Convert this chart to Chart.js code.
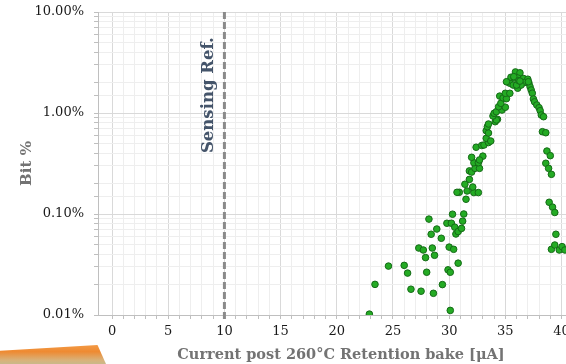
<!DOCTYPE html>
<html lang="en">
<head>
    <meta charset="UTF-8">
    <script src="https://cdn.jsdelivr.net/npm/chart.js@4.4.1/dist/chart.umd.min.js"></script>
    <title>Bit % vs current</title>
    <style>
        html, body { margin: 0; padding: 0; background: #fff; overflow: hidden; width: 566px; height: 364px; }
        #chart { position: absolute; left: 0; top: 0; }
        .corner {
            position: absolute; left: 0; top: 345px; width: 106px; height: 19px;
            background: linear-gradient(180deg, #f39a45 0%, #ee8a32 35%, #d9b27a 80%, #c9b98a 100%);
            clip-path: polygon(0 30%, 92% 0, 100% 100%, 0 100%);
        }
    </style>
</head>
<body>
    <canvas id="chart" width="600" height="364"></canvas>
    <div class="corner"></div>

    <script>
        // x: current post bake [uA], y: bit % (percent units)
        const current = [
            22.9, 23.4, 24.6, 26.0, 26.3, 26.6, 27.5, 28.6, 28.2, 28.4,
            28.9, 29.3, 27.3, 27.7, 28.5, 27.9, 28.7, 28.0, 29.4, 30.1,
            29.9, 30.1, 30.8, 30.0, 30.4, 30.3, 29.8, 30.2, 30.5, 30.6,
            30.8, 31.1, 31.3, 31.2, 31.5, 30.9, 30.7, 31.6, 32.2, 32.6,
            32.1, 31.4, 31.8, 31.8, 32.0, 32.3, 32.7, 32.2, 32.6, 32.0,
            33.0, 32.7, 32.4, 32.9, 33.1, 33.5, 33.3, 33.7, 33.3, 33.5,
            33.4, 33.5, 34.1, 34.3, 34.2, 33.9, 34.0, 34.2, 34.7, 35.0,
            34.4, 34.6, 34.5, 34.8, 35.1, 35.0, 35.4, 35.2, 35.4, 35.7,
            35.5, 35.8, 35.9, 36.3, 36.1, 36.6, 37.0, 36.7, 37.1, 37.2,
            37.3, 36.1, 36.4, 36.0, 35.75, 35.1, 36.2, 37.05, 36.3, 37.4,
            37.5, 37.6, 37.8, 38.0, 38.1, 38.2, 38.4, 38.3, 38.6, 38.7,
            39.0, 38.6, 38.85, 39.1, 38.9, 39.2, 39.4, 39.5, 39.1, 39.4,
            39.8, 40.05, 40.3
        ];
        const bitPct = [
            0.0102, 0.0201, 0.0305, 0.031, 0.026, 0.018, 0.0172, 0.0164, 0.089, 0.063,
            0.071, 0.0575, 0.046, 0.044, 0.046, 0.037, 0.039, 0.0265, 0.020, 0.0111,
            0.028, 0.0265, 0.0326, 0.047, 0.0447, 0.0995, 0.081, 0.081, 0.074, 0.0634,
            0.067, 0.072, 0.1, 0.085, 0.14, 0.164, 0.164, 0.169, 0.163, 0.163,
            0.185, 0.197, 0.22, 0.267, 0.26, 0.283, 0.283, 0.322, 0.322, 0.364,
            0.374, 0.343, 0.458, 0.477, 0.482, 0.51, 0.562, 0.528, 0.668, 0.634,
            0.732, 0.778, 0.82, 0.866, 0.853, 0.934, 0.993, 1.03, 1.07, 1.14,
            1.154, 1.247, 1.47, 1.41, 1.386, 1.567, 1.567, 2.03, 1.97, 1.89,
            2.26, 2.22, 2.55, 2.5, 2.22, 2.2, 2.16, 2.0, 1.97, 1.82,
            1.69, 1.76, 1.89, 1.89, 2.29, 2.04, 2.09, 2.04, 2.07, 1.57,
            1.376, 1.29, 1.2, 1.128, 1.054, 0.955, 0.919, 0.653, 0.638, 0.42,
            0.378, 0.318, 0.283, 0.247, 0.1306, 0.117, 0.1035, 0.063, 0.0447, 0.0493,
            0.044, 0.0475, 0.044
        ];
        const senseRef = 10;
        const senseLabel = 'Sensing Ref.';

        const points = current.map((x, i) => ({ x: x, y: bitPct[i] }));

        const isDecade = v => Math.abs(Math.log10(v) - Math.round(Math.log10(v))) < 1e-6;

        // dashed reference line + rotated label
        const refLine = {
            id: 'refLine',
            beforeDatasetsDraw(chart) {
                const ctx = chart.ctx;
                const area = chart.chartArea;
                const x = chart.scales.x.getPixelForValue(senseRef);
                ctx.save();
                ctx.strokeStyle = '#8a8a8a';
                ctx.lineWidth = 3;
                ctx.setLineDash([7, 3]);
                ctx.beginPath();
                ctx.moveTo(x, area.top);
                ctx.lineTo(x, area.bottom + 5);
                ctx.stroke();
                ctx.setLineDash([]);
                ctx.translate(x - 16, chart.scales.y.getPixelForValue(1.5));
                ctx.rotate(-Math.PI / 2);
                ctx.fillStyle = '#44546a';
                ctx.font = 'bold 16.5px "DejaVu Serif"';
                ctx.textAlign = 'center';
                ctx.textBaseline = 'middle';
                ctx.fillText(senseLabel, 0, 0);
                ctx.restore();
            }
        };

        Chart.defaults.font.family = '"DejaVu Serif", serif';
        Chart.defaults.font.size = 13;
        Chart.defaults.color = '#1a1a1a';

        new Chart(document.getElementById('chart').getContext('2d'), {
            type: 'scatter',
            data: {
                datasets: [{
                    data: points,
                    backgroundColor: '#24ab24',
                    borderColor: '#156a17',
                    borderWidth: 1,
                    pointRadius: 3.3,
                    clip: 0
                }]
            },
            options: {
                responsive: false,
                animation: false,
                layout: { padding: { top: 12, right: 16, bottom: 0, left: 0 } },
                plugins: { legend: { display: false }, tooltip: { enabled: false } },
                scales: {
                    x: {
                        type: 'linear',
                        min: -1.25,
                        max: 42,
                        afterFit(scale) {
                            scale.height = 49;
                            scale.paddingLeft = 0;
                            scale.paddingRight = 0;
                        },
                        afterBuildTicks(scale) {
                            scale.ticks = scale.ticks.filter(t => Number.isInteger(t.value));
                        },
                        ticks: {
                            stepSize: 1,
                            autoSkip: false,
                            maxRotation: 0,
                            padding: 5,
                            callback: v => (v >= 0 && v % 5 === 0) ? String(v) : ''
                        },
                        grid: {
                            color: c => (c.tick && c.tick.value % 5 === 0) ? '#d9d9d9' : '#eeeeee',
                            tickColor: '#bfbfbf',
                            tickLength: 4
                        },
                        border: { color: '#bfbfbf' },
                        title: {
                            display: true,
                            text: 'Current post 260°C Retention bake [μA]',
                            color: '#737373',
                            font: { size: 14.5, weight: 'bold' },
                            padding: { top: 3, bottom: 0 }
                        }
                    },
                    y: {
                        type: 'logarithmic',
                        min: 0.01,
                        max: 10,
                        afterFit(scale) {
                            scale.width = 98;
                            scale.paddingTop = 0;
                            scale.paddingBottom = 0;
                        },
                        ticks: {
                            autoSkip: false,
                            padding: 10,
                            callback: v => isDecade(v) ? v.toFixed(2) + '%' : ''
                        },
                        grid: {
                            color: c => (c.tick && isDecade(c.tick.value)) ? '#d9d9d9' : '#eeeeee',
                            tickColor: '#bfbfbf',
                            tickLength: 4
                        },
                        border: { color: '#bfbfbf' },
                        title: {
                            display: true,
                            text: 'Bit %',
                            color: '#737373',
                            font: { size: 15, weight: 'bold' },
                            padding: { top: 18, bottom: 0 }
                        }
                    }
                }
            },
            plugins: [refLine]
        });
    </script>
</body>
</html>
